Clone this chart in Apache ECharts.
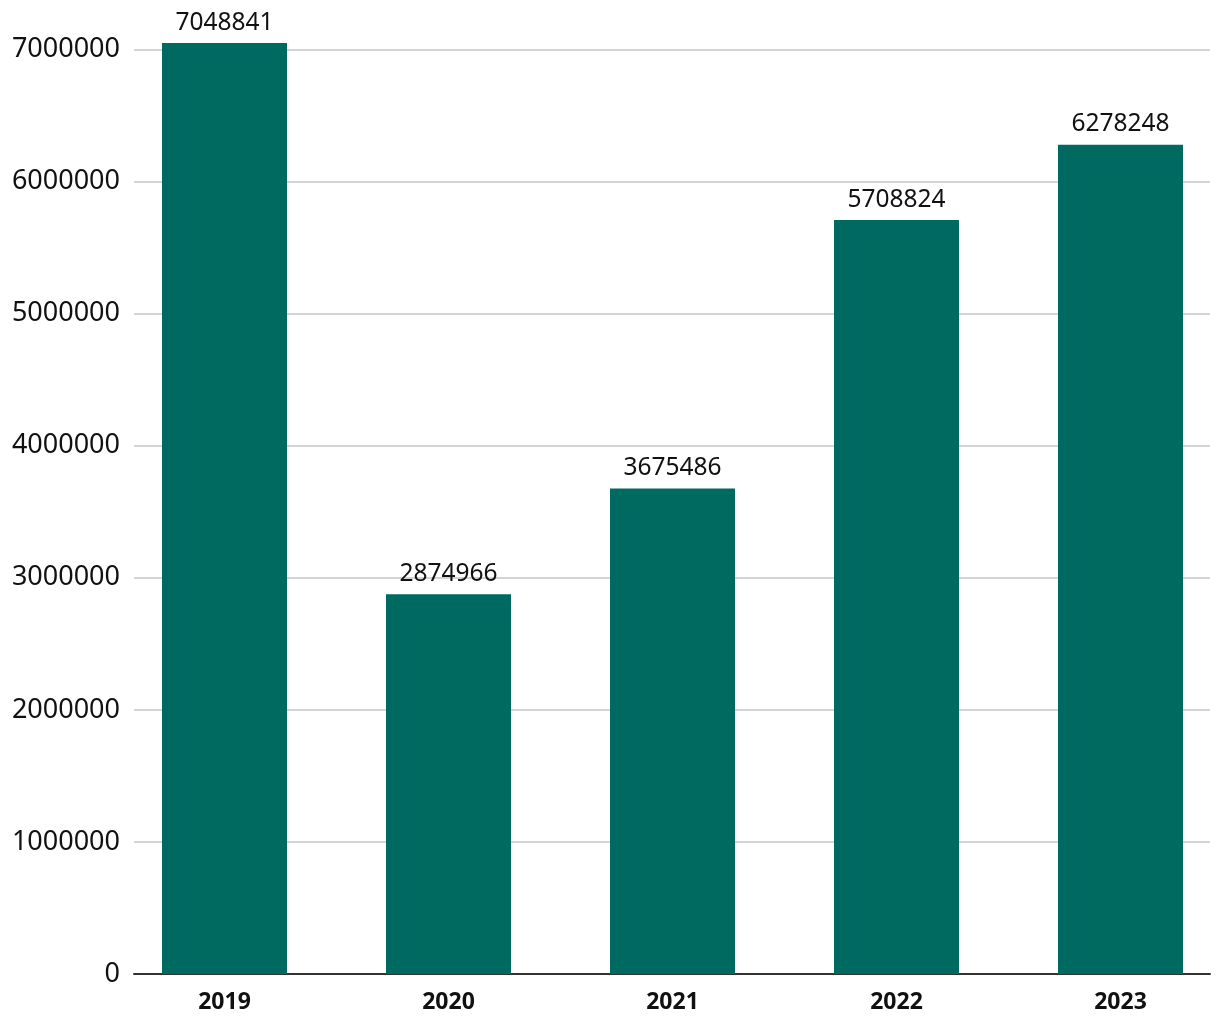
<!DOCTYPE html>
<html>
<head>
<meta charset="utf-8">
<script src="https://cdn.jsdelivr.net/npm/echarts@6/dist/echarts.min.js"></script>
<style>html,body{margin:0;padding:0;background:#fff;}#c{width:1220px;height:1020px;}</style>
</head>
<body>
<div id="c"></div>
<script>
const categories = ['2019', '2020', '2021', '2022', '2023'];
const values = [7048841, 2874966, 3675486, 5708824, 6278248];
const yMin = 0, yMax = 7000000, yInterval = 1000000;

const FONT = 'Noto Sans';
const chart = echarts.init(document.getElementById('c'), null, {renderer: 'canvas'});
chart.setOption({
  animation: false,
  backgroundColor: '#ffffff',
  grid: [
    {left: 134, right: 10, top: 49.5, bottom: 46, containLabel: false},
    {left: 224.5, right: 99.5, top: 49.5, bottom: 46, containLabel: false}
  ],
  xAxis: [
    {gridIndex: 0, type: 'value', min: 0, max: 1, show: true,
     axisLine: {show: true, lineStyle: {color: '#333333', width: 2}},
     axisTick: {show: false}, axisLabel: {show: false}, splitLine: {show: false}},
    {gridIndex: 1, type: 'category', data: categories, boundaryGap: false,
     axisLine: {show: false}, axisTick: {show: false}, splitLine: {show: false},
     axisLabel: {color: '#111111', fontFamily: FONT, fontWeight: 'bold', fontSize: 23, margin: 17}}
  ],
  yAxis: [
    {gridIndex: 0, type: 'value', min: yMin, max: yMax, interval: yInterval,
     axisLine: {show: false}, axisTick: {show: false},
     axisLabel: {color: '#111111', fontFamily: FONT, fontSize: 27, margin: 14,
                 formatter: v => String(v)},
     splitLine: {show: true, lineStyle: {color: '#c4c4c4', width: 1.5}}},
    {gridIndex: 1, type: 'value', min: yMin, max: yMax, interval: yInterval, show: false,
     splitLine: {show: false}}
  ],
  series: [{
    type: 'bar', xAxisIndex: 1, yAxisIndex: 1, data: values,
    barWidth: 125, clip: false,
    itemStyle: {color: '#006A60'},
    label: {show: true, position: 'top', distance: 8, color: '#111111', fontFamily: FONT, fontSize: 24.5}
  }]
});
</script>
</body>
</html>
